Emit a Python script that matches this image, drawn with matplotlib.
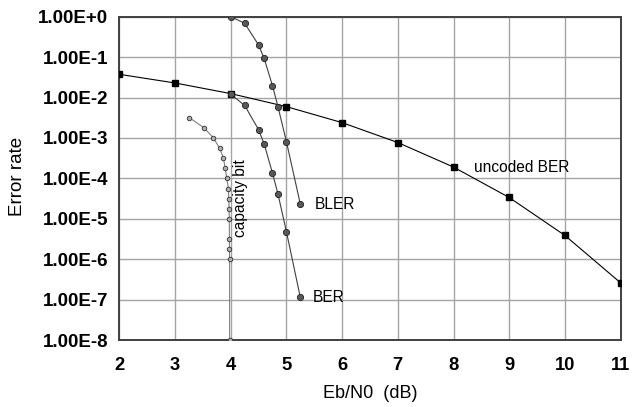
import matplotlib
matplotlib.use("Agg")
import matplotlib.pyplot as plt
import numpy as np

# ---- data ----
uncoded_x = [2, 3, 4, 5, 6, 7, 8, 9, 10, 11]
uncoded_ber = [3.75e-2, 2.29e-2, 1.25e-2, 5.95e-3, 2.39e-3, 7.7e-4, 1.9e-4, 3.36e-5, 3.87e-6, 2.6e-7]

bler_x = [4.0, 4.25, 4.5, 4.6, 4.75, 4.85, 5.0, 5.25]
bler_y = [1.0, 0.69, 0.2, 0.093, 0.0196, 0.0058, 8.1e-4, 2.3e-5]

ber_x = [4.0, 4.25, 4.5, 4.6, 4.75, 4.85, 5.0, 5.25]
ber_y = [0.012, 0.0064, 0.0016, 7.1e-4, 1.35e-4, 4.0e-5, 4.8e-6, 1.13e-7]

cap_x = [3.26, 3.52, 3.69, 3.80, 3.87, 3.90, 3.93, 3.96, 3.965, 3.97, 3.975, 3.977, 3.978, 3.98, 3.98]
cap_y = [3.16e-3, 1.78e-3, 1.0e-3, 5.6e-4, 3.16e-4, 1.78e-4, 1.0e-4, 5.6e-5, 3.16e-5, 1.78e-5, 1.0e-5,
         3.16e-6, 1.78e-6, 1.0e-6, 1.0e-8]

x_ticks = [2, 3, 4, 5, 6, 7, 8, 9, 10, 11]
y_ticks = [1e0, 1e-1, 1e-2, 1e-3, 1e-4, 1e-5, 1e-6, 1e-7, 1e-8]
y_tick_labels = ["1.00E+0", "1.00E-1", "1.00E-2", "1.00E-3", "1.00E-4",
                 "1.00E-5", "1.00E-6", "1.00E-7", "1.00E-8"]

plt.rcParams['font.family'] = ['Liberation Sans', 'DejaVu Sans']

fig = plt.figure(figsize=(6.33, 4.07), dpi=100)
ax = fig.add_axes([0.1885, 0.1646, 0.9804 - 0.1885, 0.959 - 0.1646])
ax.set_yscale('log')
ax.set_xlim(2, 11)
ax.set_ylim(1e-8, 1e0)

ax.grid(True, which='major', color='#a4a4a4', linewidth=1.0)
ax.minorticks_off()
ax.set_axisbelow(True)

ax.plot(uncoded_x, uncoded_ber, color='black', linewidth=0.8, marker='s',
        markersize=4.2, markerfacecolor='black', markeredgecolor='black', zorder=3)
ax.plot(bler_x, bler_y, color='#404040', linewidth=0.8, marker='o',
        markersize=4.5, markerfacecolor='#585858', markeredgecolor='#202020',
        markeredgewidth=0.6, zorder=4)
ax.plot(ber_x, ber_y, color='#404040', linewidth=0.8, marker='o',
        markersize=4.5, markerfacecolor='#585858', markeredgecolor='#202020',
        markeredgewidth=0.6, zorder=4)
ax.plot(cap_x, cap_y, color='#808080', linewidth=0.8, marker='o',
        markersize=3.3, markerfacecolor='#b0b0b0', markeredgecolor='#303030',
        markeredgewidth=0.6, zorder=4)

ax.text(8.36, 1.9e-4, "uncoded BER", fontsize=11.2, ha='left', va='center')
ax.text(5.5, 2.2e-5, "BLER", fontsize=11.2, ha='left', va='center')
ax.text(5.48, 1.1e-7, "BER", fontsize=11.2, ha='left', va='center')
ax.text(4.17, 3.2e-5, "capacity bit", fontsize=11.2, ha='center', va='center', rotation=90)

ax.set_xticks(x_ticks)
ax.set_xticklabels([str(v) for v in x_ticks], fontsize=13.2, fontweight='bold')
ax.set_yticks(y_ticks)
ax.set_yticklabels(y_tick_labels, fontsize=13.5, fontweight='bold')
ax.tick_params(axis='both', length=0)
ax.tick_params(axis='x', pad=12)
ax.tick_params(axis='y', pad=8)

for s in ax.spines.values():
    s.set_color('#404040')
    s.set_linewidth(1.4)

fig.text(370 / 633, 1 - 394 / 407, "Eb/N0  (dB)", fontsize=13, ha='center', va='center')
fig.text(18 / 633, 1 - 176 / 407, "Error rate", fontsize=13.5, ha='center', va='center', rotation=90)

fig.savefig("out.png", dpi=100)
